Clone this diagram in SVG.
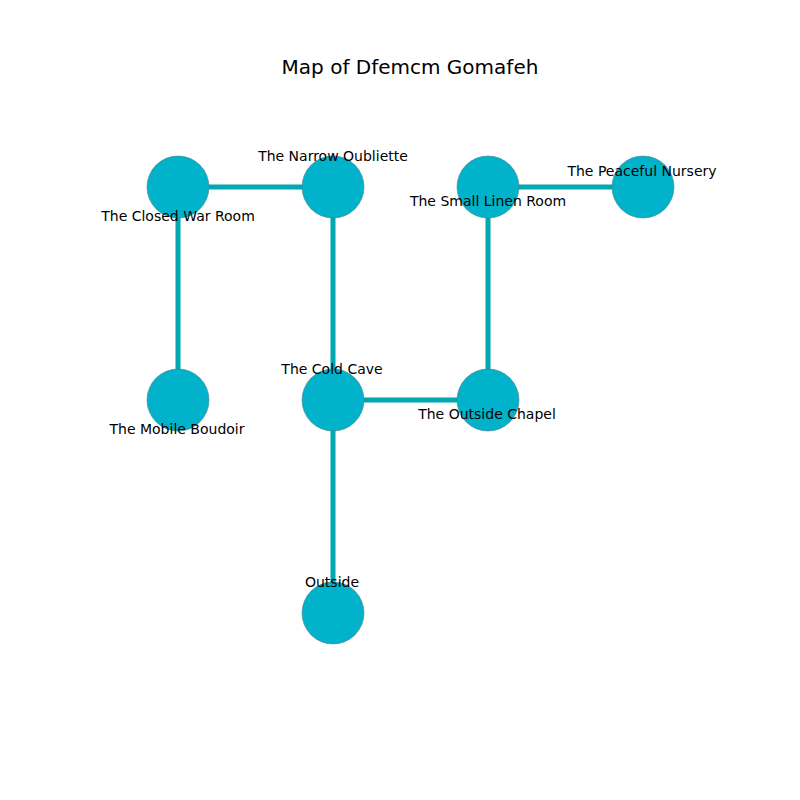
<svg xmlns="http://www.w3.org/2000/svg" width="800" height="800" viewBox="0 0 800 800">
<style>
.edge{stroke:#00a8b0;stroke-width:5;fill:none}
.node circle{fill:#00b2ca;stroke:#4a7f88;stroke-width:0.6}
.lbl{font-family:"DejaVu Sans",sans-serif;font-size:14px;fill:#000;text-anchor:middle}
.title{font-family:"DejaVu Sans",sans-serif;font-size:20px;fill:#000;text-anchor:middle}
</style>
<rect width="800" height="800" fill="#fff"/>
<text class="title" x="410" y="74">Map of Dfemcm Gomafeh</text>
<g id="connectors">
<line class="edge" x1="178" y1="187" x2="333" y2="187"/>
<line class="edge" x1="178" y1="187" x2="178" y2="400"/>
<line class="edge" x1="333" y1="187" x2="333" y2="400"/>
<line class="edge" x1="488" y1="187" x2="643" y2="187"/>
<line class="edge" x1="488" y1="187" x2="488" y2="400"/>
<line class="edge" x1="333" y1="400" x2="488" y2="400"/>
<line class="edge" x1="333" y1="400" x2="333" y2="613"/>
</g>
<g id="n-closed-war-room" class="node"><circle cx="178" cy="187" r="31"/></g>
<g id="n-narrow-oubliette" class="node"><circle cx="333" cy="187" r="31"/></g>
<g id="n-small-linen-room" class="node"><circle cx="488" cy="187" r="31"/></g>
<g id="n-peaceful-nursery" class="node"><circle cx="643" cy="187" r="31"/></g>
<g id="n-mobile-boudoir" class="node"><circle cx="178" cy="400" r="31"/></g>
<g id="n-cold-cave" class="node"><circle cx="333" cy="400" r="31"/></g>
<g id="n-outside-chapel" class="node"><circle cx="488" cy="400" r="31"/></g>
<g id="n-outside" class="node"><circle cx="333" cy="613" r="31"/></g>
<g id="labels">
<text class="lbl" x="178" y="221">The Closed War Room</text>
<text class="lbl" x="333" y="161">The Narrow Oubliette</text>
<text class="lbl" x="488" y="206">The Small Linen Room</text>
<text class="lbl" x="642" y="176">The Peaceful Nursery</text>
<text class="lbl" x="177" y="434">The Mobile Boudoir</text>
<text class="lbl" x="332" y="374">The Cold Cave</text>
<text class="lbl" x="487" y="419">The Outside Chapel</text>
<text class="lbl" x="332" y="587">Outside</text>
</g>
</svg>
